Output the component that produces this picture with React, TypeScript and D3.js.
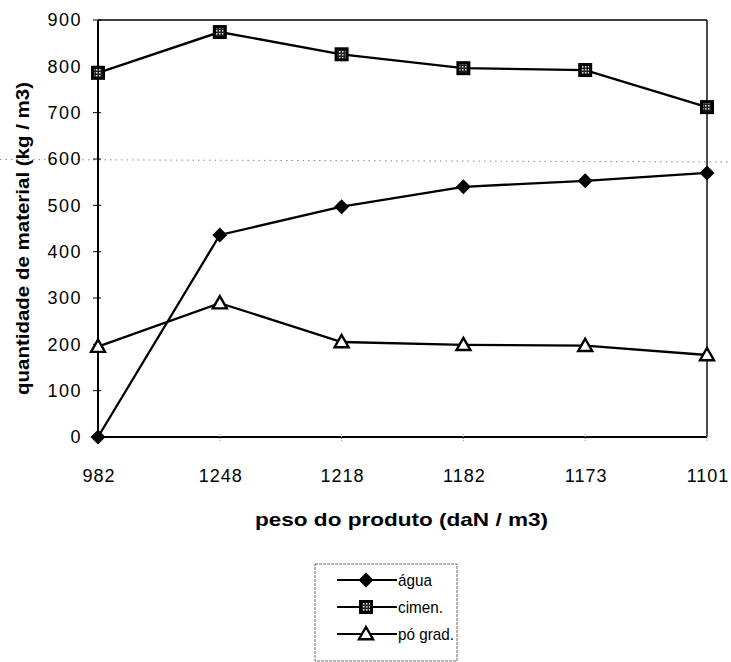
import React from "react";
import * as d3 from "d3";

const categories = ["982", "1248", "1218", "1182", "1173", "1101"];
const agua = [0, 436, 497, 540, 553, 570];
const cimen = [786, 874, 826, 796, 792, 712];
const poGrad = [195, 289, 205, 199, 197, 177];
const yTicks = [0, 100, 200, 300, 400, 500, 600, 700, 800, 900];
const seriesNames = ["água", "cimen.", "pó grad."];

const W = 731, H = 662;
const M = { left: 98, right: 707, top: 20, bottom: 437 };
const FONT = "'Liberation Sans', Arial, sans-serif";

function Marker({ kind, x, y }: { kind: string; x: number; y: number }) {
  if (kind === "diamond") {
    const s = 7.5;
    return <path d={`M${x},${y - s}L${x + s},${y}L${x},${y + s}L${x - s},${y}Z`} fill="#000" />;
  }
  if (kind === "square") {
    const s = 7;
    return (
      <g>
        <rect x={x - s} y={y - s} width={2 * s} height={2 * s} fill="#000" />
        <rect x={x - 4} y={y - 4} width={8} height={8} fill="url(#hatch)" />
      </g>
    );
  }
  const s = 7;
  return (
    <path
      d={`M${x},${y - s}L${x + s},${y + s * 0.75}L${x - s},${y + s * 0.75}Z`}
      fill="#fff"
      stroke="#000"
      strokeWidth={2.4}
    />
  );
}

export default function App() {
  const x = d3.scalePoint<string>().domain(categories).range([M.left, M.right]);
  const y = d3.scaleLinear().domain([0, 900]).range([M.bottom, M.top]);
  const line = d3
    .line<number>()
    .x((_, i) => x(categories[i]) as number)
    .y((d) => y(d));
  const series = [
    { name: seriesNames[0], data: agua, kind: "diamond", tl: 34 },
    { name: seriesNames[1], data: cimen, kind: "square", tl: 45 },
    { name: seriesNames[2], data: poGrad, kind: "triangle", tl: 56 },
  ];
  const legendX = 315, legendY = 564, legendW = 142, legendH = 97;
  const legRows = [580, 607, 634];

  return (
    <svg width={W} height={H} style={{ position: "absolute", left: 0, top: 0, background: "#fff" }} fontFamily={FONT}>
      <defs>
        <pattern id="hatch" width="3" height="3" patternUnits="userSpaceOnUse">
          <rect width="3" height="3" fill="#222" />
          <rect width="1.5" height="1.5" fill="#ddd" />
        </pattern>
      </defs>
      <rect width={W} height={H} fill="#fff" />
      {/* stray dotted line at 600 */}
      <line x1={0} x2={W} y1={y(600) + 0.5} y2={y(600) + 3} stroke="#888" strokeWidth={1} strokeDasharray="1.5,4" />
      {/* frame */}
      <line x1={M.left} x2={M.right} y1={M.top} y2={M.top} stroke="#000" strokeWidth={1.6} />
      <line x1={M.right} x2={M.right} y1={M.top} y2={M.bottom} stroke="#000" strokeWidth={1.4} />
      <line x1={M.left} x2={M.left} y1={M.top} y2={M.bottom} stroke="#000" strokeWidth={2} />
      <line x1={M.left} x2={M.right} y1={M.bottom} y2={M.bottom} stroke="#000" strokeWidth={2} />
      {/* y ticks */}
      {yTicks.map((t) => (
        <g key={t}>
          <line x1={M.left - 5} x2={M.left + 3} y1={y(t)} y2={y(t)} stroke="#000" strokeWidth={1} />
          <text x={82} y={y(t)} dy="0.36em" textAnchor="end" fontSize={18} letterSpacing={1.5}>
            {t}
          </text>
        </g>
      ))}
      {/* x ticks */}
      {categories.map((c) => (
        <g key={c}>
          <line x1={x(c)} x2={x(c)} y1={M.bottom - 3} y2={M.bottom + 5} stroke="#999" strokeWidth={1} strokeDasharray="1,1" />
          <text x={(x(c) as number) + 1} y={482} textAnchor="middle" fontSize={18} letterSpacing={1}>
            {c}
          </text>
        </g>
      ))}
      {/* series */}
      {series.map((s) => (
        <g key={s.name}>
          <path d={line(s.data) || ""} fill="none" stroke="#000" strokeWidth={2.3} />
          {s.data.map((v, i) => (
            <Marker key={i} kind={s.kind} x={x(categories[i]) as number} y={y(v)} />
          ))}
        </g>
      ))}
      {/* axis titles */}
      <text x={255} y={526} fontSize={19} fontWeight="bold" textLength={293} lengthAdjust="spacingAndGlyphs">
        peso do produto (daN / m3)
      </text>
      <text
        transform={`translate(29,395) rotate(-90)`}
        fontSize={19}
        fontWeight="bold"
        textLength={313}
        lengthAdjust="spacingAndGlyphs"
      >
        quantidade de material (kg / m3)
      </text>
      {/* legend */}
      <rect x={legendX} y={legendY} width={legendW} height={legendH} fill="#fff" stroke="#666" strokeWidth={1} strokeDasharray="3,1" />
      {series.map((s, i) => (
        <g key={s.name}>
          <line x1={337} x2={397} y1={legRows[i]} y2={legRows[i]} stroke="#000" strokeWidth={2} />
          <Marker kind={s.kind} x={366} y={legRows[i]} />
          <text x={398} y={legRows[i]} dy="0.36em" fontSize={17} textLength={s.tl} lengthAdjust="spacingAndGlyphs">
            {s.name}
          </text>
        </g>
      ))}
    </svg>
  );
}
